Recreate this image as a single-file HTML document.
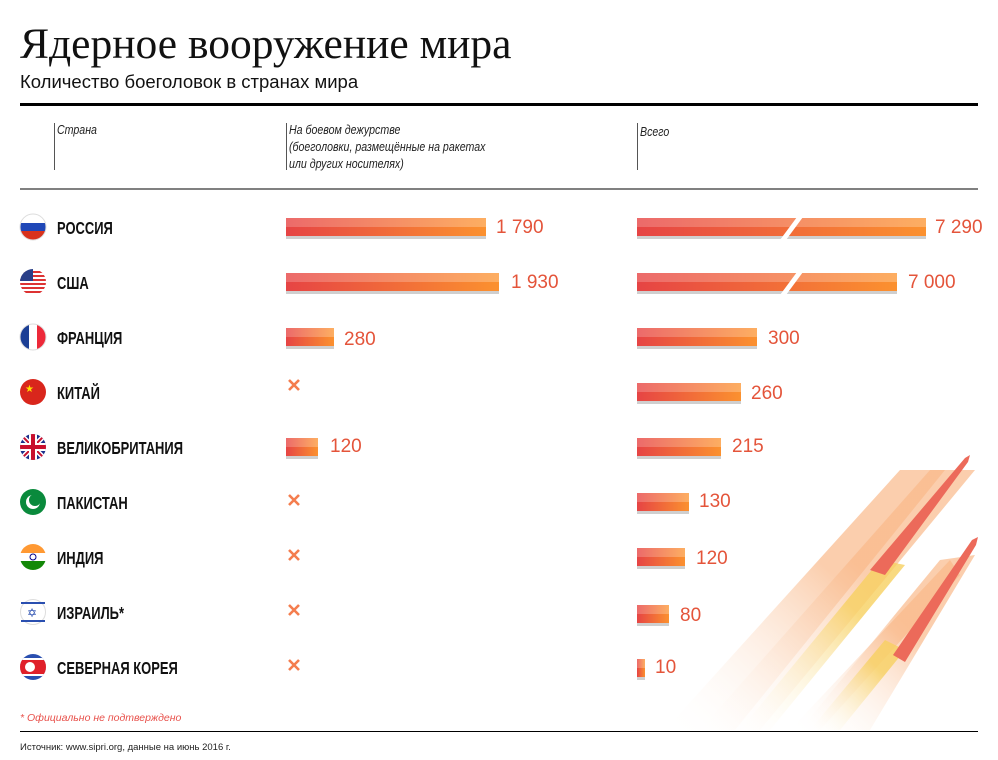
<!DOCTYPE html>
<html><head><meta charset="utf-8"><style>
body{margin:0;background:#fff}
svg{display:block}
.cn{font-family:"Liberation Sans",sans-serif;font-weight:bold;font-size:18px;fill:#111}
.v{font-family:"Liberation Sans",sans-serif;font-size:19px;fill:#e4543a}
.h{font-family:"Liberation Sans",sans-serif;font-style:italic;font-size:12.5px;fill:#222}
.x{stroke:#f47d4e;stroke-width:2.6}
</style></head><body>
<svg width="998" height="760" viewBox="0 0 998 760" xmlns="http://www.w3.org/2000/svg">
<defs>
<linearGradient id="gt" x1="0" x2="1"><stop offset="0" stop-color="#ec6a6a"/><stop offset="1" stop-color="#fdae62"/></linearGradient>
<linearGradient id="gb" x1="0" x2="1"><stop offset="0" stop-color="#e64444"/><stop offset="1" stop-color="#fb912f"/></linearGradient>
<linearGradient id="tr" x1="0" y1="1" x2="1" y2="0"><stop offset="0" stop-color="#fff" stop-opacity="0"/><stop offset="0.6" stop-color="#f9b98a" stop-opacity="0.7"/></linearGradient>
<linearGradient id="ty" x1="0" y1="1" x2="1" y2="0"><stop offset="0" stop-color="#fff" stop-opacity="0"/><stop offset="0.7" stop-color="#f7d060" stop-opacity="0.8"/></linearGradient>
</defs>
<text x="20" y="58" font-family="Liberation Serif,serif" font-size="43.5" fill="#111">Ядерное вооружение мира</text>
<text x="20" y="88" font-family="Liberation Sans,sans-serif" font-size="18.5" fill="#111">Количество боеголовок в странах мира</text>
<rect x="20" y="103" width="958" height="3" fill="#000"/>
<rect x="20" y="188.5" width="958" height="1" fill="#000"/>
<rect x="54" y="123" width="1" height="47" fill="#555"/>
<rect x="286" y="123" width="1" height="47" fill="#555"/>
<rect x="637" y="123" width="1" height="47" fill="#555"/>
<g transform="translate(57,0) scale(0.85,1) translate(-57,0)"><text class="h" x="57" y="134">Страна</text></g>
<g transform="translate(289,0) scale(0.85,1) translate(-289,0)">
<text class="h" x="289" y="134">На боевом дежурстве</text>
<text class="h" x="289" y="151">(боеголовки, размещённые на ракетах</text>
<text class="h" x="289" y="168">или других носителях)</text></g>
<g transform="translate(640,0) scale(0.85,1) translate(-640,0)"><text class="h" x="640" y="136">Всего</text></g>

<g>
<path d="M665 730 L900 470 L945 470 L735 730Z" fill="url(#tr)"/>
<path d="M700 730 L930 470 L975 470 L760 730Z" fill="url(#tr)"/>
<path d="M740 730 L880 560 L905 565 L770 730Z" fill="url(#ty)"/>
<path d="M800 730 L940 560 L975 555 L870 730Z" fill="url(#tr)"/>
<path d="M790 730 L950 560 L960 575 L820 730Z" fill="url(#tr)"/>
<path d="M810 730 L885 640 L905 650 L840 730Z" fill="url(#ty)"/>
<path d="M870 570 L965 458 L970 455 L968 462 L885 575Z" fill="#ec6a5a"/>
<path d="M893 655 L972 540 L978 537 L976 545 L905 662Z" fill="#ec6a5a"/>
</g>

<g>
<clipPath id="c1"><circle cx="33" cy="227" r="13"/></clipPath>
<g clip-path="url(#c1)"><rect x="20" y="214" width="26" height="9" fill="#fff"/><rect x="20" y="223" width="26" height="9" fill="#1f47b7"/><rect x="20" y="231" width="26" height="9" fill="#d8321c"/></g>
<circle cx="33" cy="227" r="13" fill="none" stroke="#ddd"/>
<clipPath id="c2"><circle cx="33" cy="282" r="13"/></clipPath>
<g clip-path="url(#c2)"><rect x="20" y="269" width="26" height="26" fill="#fff"/><rect x="20" y="271" width="26" height="2" fill="#d33"/><rect x="20" y="275" width="26" height="2" fill="#d33"/><rect x="20" y="279" width="26" height="2" fill="#d33"/><rect x="20" y="283" width="26" height="2" fill="#d33"/><rect x="20" y="287" width="26" height="2" fill="#d33"/><rect x="20" y="291" width="26" height="2" fill="#d33"/><rect x="20" y="269" width="13" height="12" fill="#2a3f88"/></g>
<clipPath id="c3"><circle cx="33" cy="337" r="13"/></clipPath>
<g clip-path="url(#c3)"><rect x="20" y="324" width="9" height="26" fill="#1c3f95"/><rect x="29" y="324" width="9" height="26" fill="#fff"/><rect x="37" y="324" width="9" height="26" fill="#ed2939"/></g>
<circle cx="33" cy="337" r="13" fill="none" stroke="#ddd"/>
<circle cx="33" cy="392" r="13" fill="#d9261c"/><text x="25" y="392" font-size="10" fill="#ffde00">★</text>
<clipPath id="c5"><circle cx="33" cy="447" r="13"/></clipPath>
<g clip-path="url(#c5)"><rect x="20" y="434" width="26" height="26" fill="#1a2f8a"/><path d="M20 434L46 460M46 434L20 460" stroke="#fff" stroke-width="5"/><path d="M20 434L46 460M46 434L20 460" stroke="#c8102e" stroke-width="2"/><rect x="20" y="443" width="26" height="8" fill="#fff"/><rect x="29" y="434" width="8" height="26" fill="#fff"/><rect x="20" y="445" width="26" height="4" fill="#c8102e"/><rect x="31" y="434" width="4" height="26" fill="#c8102e"/></g>
<circle cx="33" cy="502" r="13" fill="#0a8a3c"/><circle cx="33" cy="502" r="7" fill="#fff"/><circle cx="35" cy="500" r="6" fill="#0a8a3c"/>
<clipPath id="c7"><circle cx="33" cy="557" r="13"/></clipPath>
<g clip-path="url(#c7)"><rect x="20" y="544" width="26" height="9" fill="#f93"/><rect x="20" y="553" width="26" height="9" fill="#fff"/><rect x="20" y="561" width="26" height="9" fill="#138808"/></g>
<circle cx="33" cy="557" r="3" fill="none" stroke="#008" stroke-width="1"/>
<circle cx="33" cy="612" r="12.5" fill="#fff" stroke="#ddd"/><rect x="21" y="602" width="24" height="2" fill="#2a4fb0"/><rect x="21" y="620" width="24" height="2" fill="#2a4fb0"/><text x="27" y="617" font-size="12" fill="#2a4fb0">✡</text>
<clipPath id="c9"><circle cx="33" cy="667" r="13"/></clipPath>
<g clip-path="url(#c9)"><rect x="20" y="654" width="26" height="26" fill="#2a4fb0"/><rect x="20" y="658" width="26" height="18" fill="#fff"/><rect x="20" y="660" width="26" height="14" fill="#e0202a"/></g>
<circle cx="30" cy="667" r="5" fill="#fff"/>
</g>
<g transform="translate(57,0) scale(0.72,1) translate(-57,0)">
<text class="cn" x="57" y="234">РОССИЯ</text>
<text class="cn" x="57" y="289">США</text>
<text class="cn" x="57" y="344">ФРАНЦИЯ</text>
<text class="cn" x="57" y="399">КИТАЙ</text>
<text class="cn" x="57" y="454">ВЕЛИКОБРИТАНИЯ</text>
<text class="cn" x="57" y="509">ПАКИСТАН</text>
<text class="cn" x="57" y="564">ИНДИЯ</text>
<text class="cn" x="57" y="619">ИЗРАИЛЬ*</text>
<text class="cn" x="57" y="674">СЕВЕРНАЯ КОРЕЯ</text>
</g>

<g>
<g transform="translate(0,218)"><rect x="286" y="0" width="200" height="21" fill="#cfcfcf"/><rect x="286" y="0" width="200" height="9" fill="url(#gt)"/><rect x="286" y="9" width="200" height="9" fill="url(#gb)"/></g>
<g transform="translate(0,273)"><rect x="286" y="0" width="213" height="21" fill="#cfcfcf"/><rect x="286" y="0" width="213" height="9" fill="url(#gt)"/><rect x="286" y="9" width="213" height="9" fill="url(#gb)"/></g>
<g transform="translate(0,328)"><rect x="286" y="0" width="48" height="21" fill="#cfcfcf"/><rect x="286" y="0" width="48" height="9" fill="url(#gt)"/><rect x="286" y="9" width="48" height="9" fill="url(#gb)"/></g>
<g transform="translate(0,438)"><rect x="286" y="0" width="32" height="21" fill="#cfcfcf"/><rect x="286" y="0" width="32" height="9" fill="url(#gt)"/><rect x="286" y="9" width="32" height="9" fill="url(#gb)"/></g>
</g>
<text class="v" x="496" y="233">1 790</text>
<text class="v" x="511" y="288">1 930</text>
<text class="v" x="344" y="345">280</text>
<text class="v" x="330" y="452">120</text>
<g class="x"><path d="M289 380l10 10M299 380l-10 10"/><path d="M289 495l10 10M299 495l-10 10"/><path d="M289 550l10 10M299 550l-10 10"/><path d="M289 605l10 10M299 605l-10 10"/><path d="M289 660l10 10M299 660l-10 10"/></g>

<g>
<g transform="translate(0,218)"><rect x="637" y="0" width="289" height="21" fill="#cfcfcf"/><rect x="637" y="0" width="289" height="9" fill="url(#gt)"/><rect x="637" y="9" width="289" height="9" fill="url(#gb)"/><path d="M797 -1L803 -1L786 22L780 22Z" fill="#fff"/></g>
<g transform="translate(0,273)"><rect x="637" y="0" width="260" height="21" fill="#cfcfcf"/><rect x="637" y="0" width="260" height="9" fill="url(#gt)"/><rect x="637" y="9" width="260" height="9" fill="url(#gb)"/><path d="M797 -1L803 -1L786 22L780 22Z" fill="#fff"/></g>
<g transform="translate(0,328)"><rect x="637" y="0" width="120" height="21" fill="#cfcfcf"/><rect x="637" y="0" width="120" height="9" fill="url(#gt)"/><rect x="637" y="9" width="120" height="9" fill="url(#gb)"/></g>
<g transform="translate(0,383)"><rect x="637" y="0" width="104" height="21" fill="#cfcfcf"/><rect x="637" y="0" width="104" height="9" fill="url(#gt)"/><rect x="637" y="9" width="104" height="9" fill="url(#gb)"/></g>
<g transform="translate(0,438)"><rect x="637" y="0" width="84" height="21" fill="#cfcfcf"/><rect x="637" y="0" width="84" height="9" fill="url(#gt)"/><rect x="637" y="9" width="84" height="9" fill="url(#gb)"/></g>
<g transform="translate(0,493)"><rect x="637" y="0" width="52" height="21" fill="#cfcfcf"/><rect x="637" y="0" width="52" height="9" fill="url(#gt)"/><rect x="637" y="9" width="52" height="9" fill="url(#gb)"/></g>
<g transform="translate(0,548)"><rect x="637" y="0" width="48" height="21" fill="#cfcfcf"/><rect x="637" y="0" width="48" height="9" fill="url(#gt)"/><rect x="637" y="9" width="48" height="9" fill="url(#gb)"/></g>
<g transform="translate(0,605)"><rect x="637" y="0" width="32" height="21" fill="#cfcfcf"/><rect x="637" y="0" width="32" height="9" fill="url(#gt)"/><rect x="637" y="9" width="32" height="9" fill="url(#gb)"/></g>
<g transform="translate(0,659)"><rect x="637" y="0" width="8" height="21" fill="#cfcfcf"/><rect x="637" y="0" width="8" height="9" fill="url(#gt)"/><rect x="637" y="9" width="8" height="9" fill="url(#gb)"/></g>
</g>
<text class="v" x="935" y="233">7 290</text>
<text class="v" x="908" y="288">7 000</text>
<text class="v" x="768" y="344">300</text>
<text class="v" x="751" y="399">260</text>
<text class="v" x="732" y="452">215</text>
<text class="v" x="699" y="507">130</text>
<text class="v" x="696" y="564">120</text>
<text class="v" x="680" y="621">80</text>
<text class="v" x="655" y="673">10</text>

<text x="20" y="721" font-family="Liberation Sans,sans-serif" font-style="italic" font-size="10.5" fill="#e8504a">* Официально не подтверждено</text>
<rect x="20" y="731" width="958" height="1" fill="#000"/>
<text x="20" y="750" font-family="Liberation Sans,sans-serif" font-size="9.5" fill="#222">Источник: www.sipri.org,  данные на июнь 2016 г.</text>
</svg>
</body></html>
